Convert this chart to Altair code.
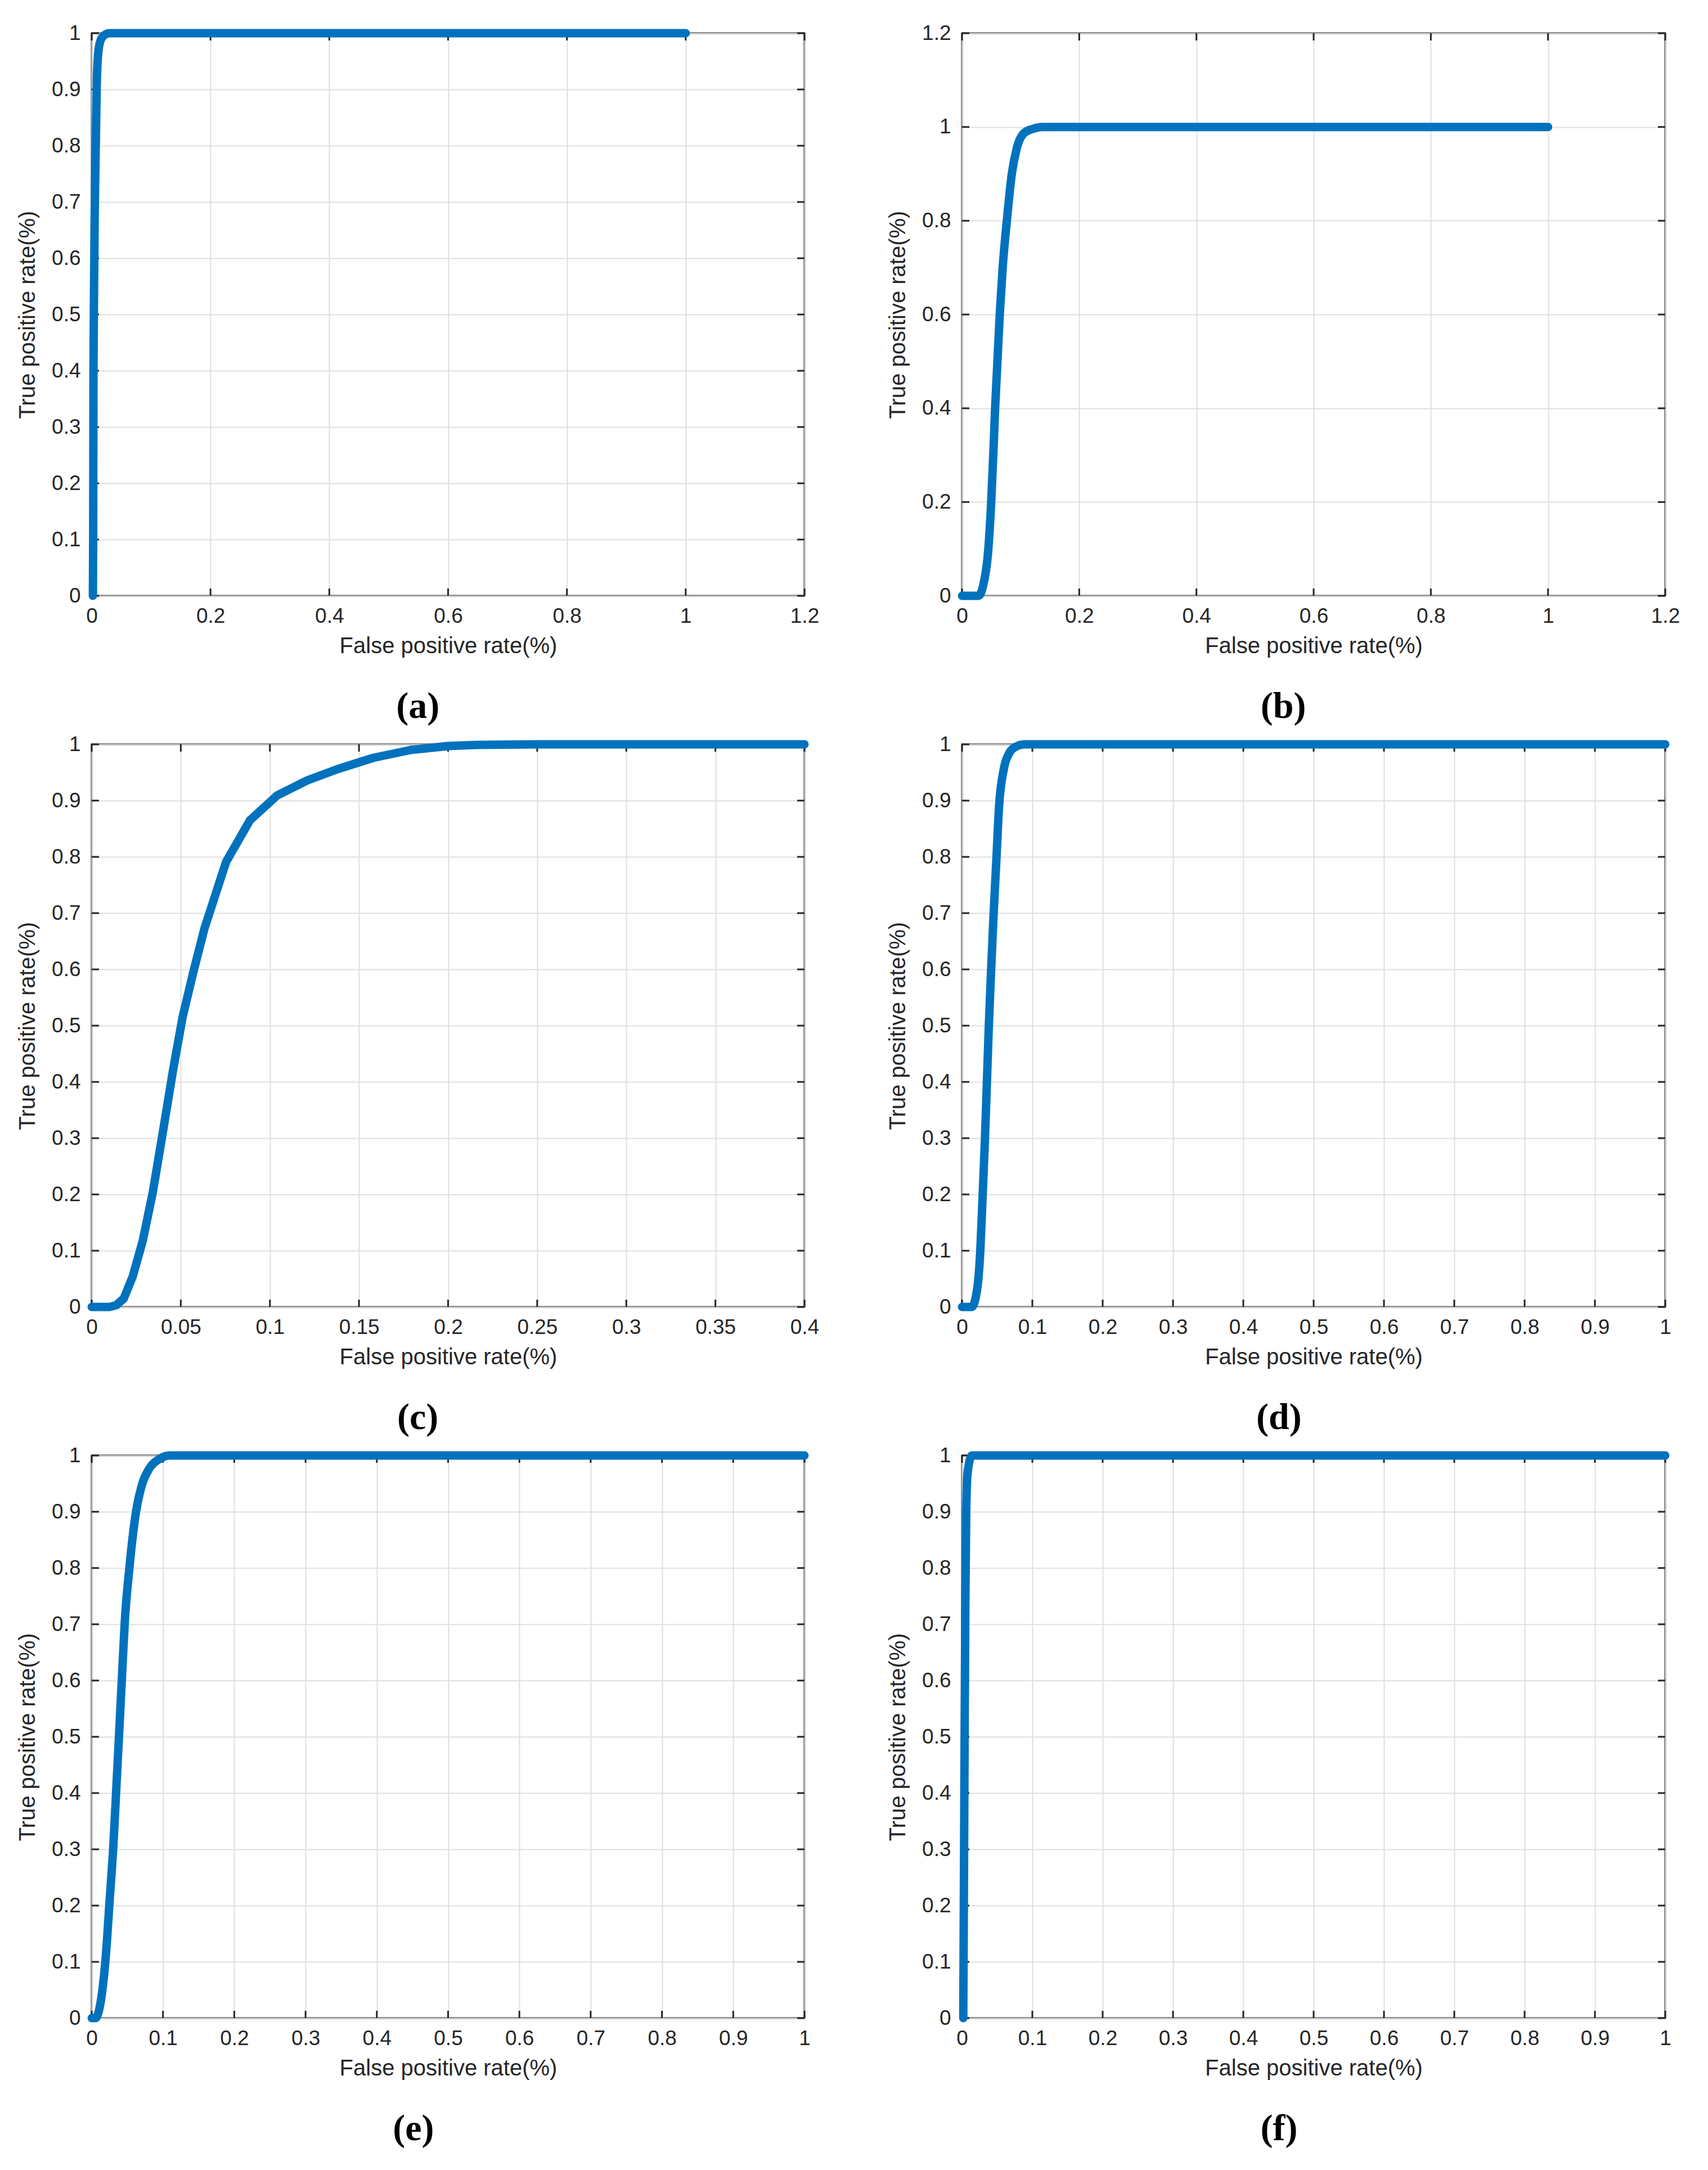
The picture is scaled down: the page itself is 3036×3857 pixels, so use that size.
import altair as alt
import pandas as pd

# ROC curves
fpr_a = [0.002, 0.0025, 0.003, 0.004, 0.005, 0.007, 0.0085, 0.0115, 0.016, 0.022, 0.03, 1.0]
tpr_a = [0.0, 0.1, 0.4, 0.55, 0.675, 0.81, 0.91, 0.97, 0.99, 0.997, 1.0, 1.0]

fpr_b = [0, 0.028, 0.037, 0.0448, 0.0498, 0.0537, 0.0565, 0.06, 0.0644, 0.0695, 0.0765,
         0.085, 0.0933, 0.105, 0.121, 0.137, 1.0]
tpr_b = [0, 0, 0.027, 0.098, 0.2, 0.311, 0.4, 0.489, 0.6, 0.702, 0.8,
         0.9, 0.954, 0.986, 0.996, 1.0, 1.0]

fpr_c = [0, 0.01, 0.0137, 0.018, 0.023, 0.0286, 0.0343, 0.040, 0.0456, 0.051, 0.057, 0.0633,
         0.0754, 0.0888, 0.104, 0.121, 0.138, 0.158, 0.179, 0.2, 0.216, 0.25, 0.4]
tpr_c = [0, 0, 0.003, 0.015, 0.054, 0.117, 0.204, 0.312, 0.42, 0.515, 0.595, 0.673,
         0.791, 0.865, 0.909, 0.936, 0.956, 0.976, 0.990, 0.997, 0.999, 1.0, 1.0]

fpr_d = [0, 0.0139, 0.0219, 0.026, 0.0294, 0.0326, 0.0353, 0.038, 0.0412, 0.0447, 0.0487,
         0.0527, 0.0594, 0.0674, 0.0754, 0.0888, 1.0]
tpr_d = [0, 0, 0.035, 0.1, 0.2, 0.298, 0.396, 0.495, 0.594, 0.692, 0.791,
         0.89, 0.956, 0.985, 0.995, 1.0, 1.0]

fpr_e = [0, 0.005, 0.0146, 0.0199, 0.0252, 0.0305, 0.0345, 0.0385, 0.0424, 0.0464, 0.0531,
         0.0623, 0.0703, 0.0809, 0.094, 0.11, 1.0]
tpr_e = [0, 0, 0.046, 0.112, 0.21, 0.309, 0.408, 0.507, 0.605, 0.704, 0.803,
         0.901, 0.947, 0.977, 0.993, 1.0, 1.0]

fpr_f = [0.0018, 0.0037, 0.0048, 0.006, 0.008, 0.014, 1.0]
tpr_f = [0, 0.5, 0.75, 0.9, 0.97, 1.0, 1.0]

# tick values of the axes
ticks_x12 = [0, 0.2, 0.4, 0.6, 0.8, 1, 1.2]
ticks_x04 = [0, 0.05, 0.1, 0.15, 0.2, 0.25, 0.3, 0.35, 0.4]
ticks_x10 = [0, 0.1, 0.2, 0.3, 0.4, 0.5, 0.6, 0.7, 0.8, 0.9, 1]
ticks_y10 = [0, 0.1, 0.2, 0.3, 0.4, 0.5, 0.6, 0.7, 0.8, 0.9, 1]
ticks_y12 = [0, 0.2, 0.4, 0.6, 0.8, 1, 1.2]

BLUE = '#0072BD'
INK = '#262626'
H = 1000
TICK = 13


def panel(fpr, tpr, xt, yt, w, label, interp='monotone'):
    xs = alt.Scale(domain=[xt[0], xt[-1]], nice=False)
    ys = alt.Scale(domain=[yt[0], yt[-1]], nice=False)
    xa = alt.Axis(values=xt, format='~g', title='False positive rate(%)')
    ya = alt.Axis(values=yt, format='~g', title='True positive rate(%)')

    # MATLAB style inward ticks on all four sides
    yt_df = pd.DataFrame({'tpr': yt})
    xt_df = pd.DataFrame({'fpr': xt})
    rule = dict(color=INK, strokeWidth=3)
    left = alt.Chart(yt_df).mark_rule(**rule).encode(
        y=alt.Y('tpr:Q', scale=ys, axis=ya), x=alt.value(0), x2=alt.value(TICK))
    right = alt.Chart(yt_df).mark_rule(**rule).encode(
        y=alt.Y('tpr:Q', scale=ys, axis=ya), x=alt.value(w - TICK), x2=alt.value(w))
    bottom = alt.Chart(xt_df).mark_rule(**rule).encode(
        x=alt.X('fpr:Q', scale=xs, axis=xa), y=alt.value(H - TICK), y2=alt.value(H))
    top = alt.Chart(xt_df).mark_rule(**rule).encode(
        x=alt.X('fpr:Q', scale=xs, axis=xa), y=alt.value(0), y2=alt.value(TICK))

    curve = alt.Chart(pd.DataFrame({'fpr': fpr, 'tpr': tpr})).mark_line(
        color=BLUE, strokeWidth=15, strokeCap='round', strokeJoin='round', interpolate=interp
    ).encode(
        x=alt.X('fpr:Q', scale=xs, axis=xa),
        y=alt.Y('tpr:Q', scale=ys, axis=ya),
    )

    return alt.layer(left, right, bottom, top, curve).properties(
        width=w, height=H,
        title=alt.TitleParams(text=label, orient='bottom', anchor='middle', frame='bounds',
                              font='Liberation Serif', fontSize=66, fontWeight='bold',
                              color='black', offset=56)
    )


WL = 1267
WR = 1250

chart = alt.concat(
    panel(fpr_a, tpr_a, ticks_x12, ticks_y10, WL, '(a)'),
    panel(fpr_b, tpr_b, ticks_x12, ticks_y12, WR, '(b)'),
    panel(fpr_c, tpr_c, ticks_x04, ticks_y10, WL, '(c)', interp='linear'),
    panel(fpr_d, tpr_d, ticks_x10, ticks_y10, WR, '(d)'),
    panel(fpr_e, tpr_e, ticks_x10, ticks_y10, WL, '(e)'),
    panel(fpr_f, tpr_f, ticks_x10, ticks_y10, WR, '(f)'),
    columns=2,
    bounds='flush',
    spacing={'row': 264, 'column': 280},
).properties(
    padding={'left': 20, 'top': 30, 'right': 5, 'bottom': 5},
    background='white'
).configure_view(
    stroke=INK, strokeWidth=3
).configure_axis(
    labelFont='Liberation Sans', labelFontSize=37, labelColor=INK,
    titleFont='Liberation Sans', titleFontSize=40, titleFontWeight='normal', titleColor=INK,
    ticks=False, domain=False, gridColor='#dfdfdf', gridWidth=2,
    labelFlush=False, labelOverlap=False
).configure_axisX(
    labelPadding=18, titlePadding=15
).configure_axisY(
    labelPadding=20, titlePadding=22
)

chart.save("out.html", embed_options={"renderer": "svg", "actions": False})
